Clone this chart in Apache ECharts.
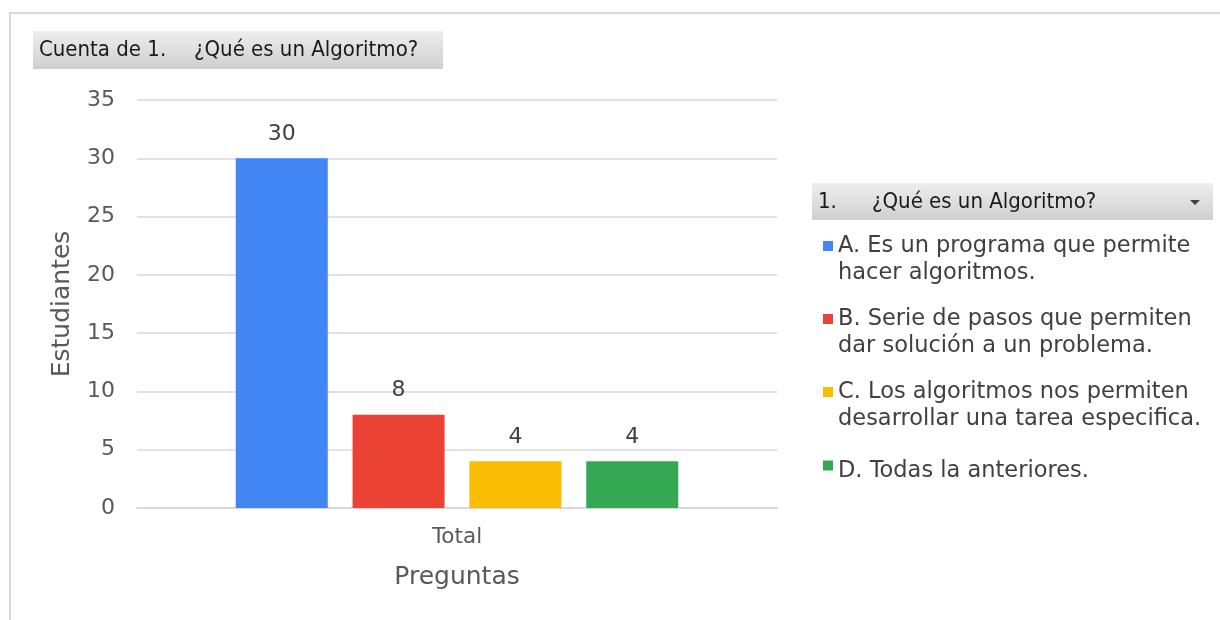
<!DOCTYPE html>
<html>
<head>
<meta charset="utf-8">
<script src="https://cdn.jsdelivr.net/npm/echarts@6/dist/echarts.min.js"></script>
<style>
  html, body { margin: 0; padding: 0; background: #fff; }
  #grafico { width: 1220px; height: 620px; }
</style>
</head>
<body>
<div id="grafico"></div>
<script>
// datos del grafico
var categorias = ['Total'];
var respuestas = [
    'A. Es un programa que permite\nhacer algoritmos.',
    'B. Serie de pasos que permiten\ndar solución a un problema.',
    'C. Los algoritmos nos permiten\ndesarrollar una tarea especifica.',
    'D. Todas la anteriores.'
];
var valores = [30, 8, 4, 4];
var colores = ['#4285f4', '#ea4335', '#fbbc04', '#34a853'];
var ticksY = [0, 5, 10, 15, 20, 25, 30, 35];

var fuente = 'DejaVu Sans';
var fuenteBoton = 'DejaVu Sans Condensed';

// iconos: cuadro alineado con la primera linea del texto
var iconoDosLineas = 'path://M0,0h10v10h-10Z M0,38h0.01';
var iconoUnaLinea = 'path://M0,0h0.01 M0,8.5h10v10h-10Z M0,38h0.01';

var grafico = echarts.init(document.getElementById('grafico'));

var series = [];
var leyenda = [];
for (var i = 0; i < respuestas.length; i++) {
    series.push({
        name: respuestas[i],
        type: 'bar',
        data: [valores[i]],
        barWidth: 92,
        barGap: '27%',
        itemStyle: { color: colores[i] },
        label: {
            show: true,
            position: 'top',
            distance: 13,
            color: '#404040',
            fontSize: 22,
            fontFamily: fuente
        }
    });
    var dosLineas = respuestas[i].indexOf('\n') >= 0;
    var item = { name: respuestas[i], icon: dosLineas ? iconoDosLineas : iconoUnaLinea };
    if (!dosLineas) {
        item.textStyle = { padding: [0, 0, 11, 0] };
    }
    leyenda.push(item);
}

var fondoGris = new echarts.graphic.LinearGradient(0, 0, 0, 1, [
    { offset: 0, color: '#eeeeee' },
    { offset: 1, color: '#cfcfcf' }
]);

var option = {
    animation: false,
    backgroundColor: '#ffffff',
    grid: { left: 137, right: 443, top: 100, bottom: 112 },
    legend: {
        orient: 'vertical',
        left: 818,
        top: 228,
        itemWidth: 10,
        itemHeight: 38,
        itemGap: 19,
        data: leyenda,
        textStyle: {
            color: '#404040',
            fontSize: 22.5,
            lineHeight: 27,
            fontFamily: fuente
        }
    },
    xAxis: {
        type: 'category',
        data: categorias,
        name: 'Preguntas',
        nameLocation: 'middle',
        nameGap: 57,
        nameTextStyle: { color: '#595959', fontSize: 25, fontFamily: fuente },
        axisLine: { lineStyle: { color: '#d9d9d9', width: 2 } },
        axisTick: { show: false },
        axisLabel: { color: '#595959', fontSize: 21.5, margin: 18, fontFamily: fuente }
    },
    yAxis: {
        type: 'value',
        min: ticksY[0],
        max: ticksY[ticksY.length - 1],
        interval: 5,
        name: 'Estudiantes',
        nameLocation: 'middle',
        nameGap: 62,
        nameTextStyle: { color: '#595959', fontSize: 25, fontFamily: fuente },
        axisLine: { show: false },
        axisTick: { show: false },
        axisLabel: { color: '#595959', fontSize: 22, margin: 22, fontFamily: fuente },
        splitLine: { lineStyle: { color: '#d9d9d9', width: 1.5 } }
    },
    graphic: [
        // borde del area
        { type: 'polyline', shape: { points: [[10, 620], [10, 13], [1220, 13]] },
          style: { stroke: '#d9d9d9', lineWidth: 2, fill: null } },
        // boton del campo de valores
        { type: 'rect', shape: { x: 33, y: 31, width: 410, height: 38 },
          style: { fill: fondoGris } },
        { type: 'text', x: 39, y: 50,
          style: { text: 'Cuenta de 1.', fill: '#1a1a1a', fontSize: 22, fontFamily: fuenteBoton, verticalAlign: 'middle' } },
        { type: 'text', x: 194, y: 50,
          style: { text: '¿Qué es un Algoritmo?', fill: '#1a1a1a', fontSize: 22, fontFamily: fuenteBoton, verticalAlign: 'middle' } },
        // boton del campo de leyenda
        { type: 'rect', shape: { x: 812, y: 183, width: 401, height: 37 },
          style: { fill: fondoGris } },
        { type: 'text', x: 818, y: 202,
          style: { text: '1.', fill: '#1a1a1a', fontSize: 22, fontFamily: fuenteBoton, verticalAlign: 'middle' } },
        { type: 'text', x: 872, y: 202,
          style: { text: '¿Qué es un Algoritmo?', fill: '#1a1a1a', fontSize: 22, fontFamily: fuenteBoton, verticalAlign: 'middle' } },
        { type: 'polygon', shape: { points: [[1190, 200], [1200, 200], [1195, 205]] },
          style: { fill: '#404040' } }
    ],
    series: series
};

grafico.setOption(option);
</script>
</body>
</html>
